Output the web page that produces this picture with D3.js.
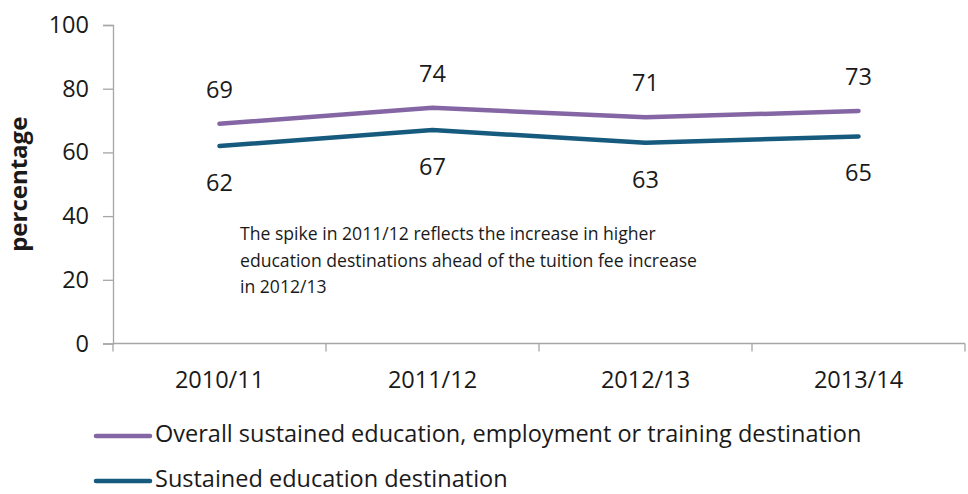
<!DOCTYPE html>
<html>
<head>
<meta charset="utf-8">
<script src="https://cdn.jsdelivr.net/npm/d3@7"></script>
<style>
  html, body { margin: 0; padding: 0; background: #ffffff; }
  svg { display: block; }
  text { font-family: "Open Sans", Lato, sans-serif; fill: #1a1a1a; }
</style>
</head>
<body>
<svg id="chart" width="968" height="494"></svg>
<script>
// Academic years on the category axis
const years = ["2010/11", "2011/12", "2012/13", "2013/14"];
// Overall sustained education, employment or training destination (%)
const overallValues = [69, 74, 71, 73];
// Sustained education destination (%)
const educationValues = [62, 67, 63, 65];
const yTicks = [0, 20, 40, 60, 80, 100];
const seriesNames = [
  "Overall sustained education, employment or training destination",
  "Sustained education destination"
];
const noteLines = [
  "The spike in 2011/12 reflects the increase in higher",
  "education destinations ahead of the tuition fee increase",
  "in 2012/13"
];

const svg = d3.select("#chart");
const plotLeft = 113, plotRight = 965, plotTop = 25, plotBottom = 343.5;
const labelSize = "23.5px";

const x = d3.scaleBand().domain(years).range([plotLeft, plotRight]).padding(0);
const y = d3.scaleLinear().domain([0, 100]).range([plotBottom, plotTop]);

const axisColor = "#a6a6a6";

// Y axis
const yAxis = svg.append("g")
  .attr("transform", `translate(${plotLeft},0)`)
  .call(d3.axisLeft(y).tickValues(yTicks).tickSize(10).tickPadding(14));
yAxis.select(".domain").attr("stroke", axisColor).attr("stroke-width", 1.3);
yAxis.selectAll(".tick line").attr("stroke", axisColor).attr("stroke-width", 1.3);
yAxis.selectAll(".tick text")
  .style("font-size", labelSize).style("fill", "#1a1a1a")
  .attr("font-family", null);

// X axis: tick marks sit on category boundaries
const xAxisG = svg.append("g").attr("transform", `translate(0,${plotBottom})`);
xAxisG.append("line")
  .attr("x1", plotLeft).attr("x2", plotRight)
  .attr("stroke", axisColor).attr("stroke-width", 1.3);
const boundaries = years.map(d => x(d)).concat([x(years[years.length - 1]) + x.bandwidth()]);
xAxisG.selectAll("line.bt").data(boundaries).join("line")
  .attr("class", "bt")
  .attr("x1", d => d).attr("x2", d => d)
  .attr("y1", 0).attr("y2", 8)
  .attr("stroke", axisColor).attr("stroke-width", 1.3);
xAxisG.selectAll("text.cat").data(years).join("text")
  .attr("class", "cat")
  .attr("x", d => x(d) + x.bandwidth() / 2)
  .attr("y", 44.5)
  .attr("text-anchor", "middle")
  .style("font-size", labelSize)
  .text(d => d);

// Y axis title
svg.append("text")
  .attr("transform", `translate(27,${(plotTop + plotBottom) / 2}) rotate(-90)`)
  .attr("text-anchor", "middle")
  .style("font-size", "24px")
  .style("font-weight", "bold")
  .text("percentage");

const cx = d => x(d) + x.bandwidth() / 2;
const line = d3.line().x(d => cx(d.year)).y(d => y(d.value));

const series = [
  { name: seriesNames[0], color: "#8566a4", values: overallValues, labelDy: -26 },
  { name: seriesNames[1], color: "#165a7e", values: educationValues, labelDy: 45 }
];

series.forEach(s => {
  const pts = years.map((yr, i) => ({ year: yr, value: s.values[i] }));
  svg.append("path")
    .datum(pts)
    .attr("fill", "none")
    .attr("stroke", s.color)
    .attr("stroke-width", 4.5)
    .attr("stroke-linejoin", "round")
    .attr("stroke-linecap", "round")
    .attr("d", line);
  svg.selectAll(null).data(pts).join("text")
    .attr("x", d => cx(d.year))
    .attr("y", d => y(d.value) + s.labelDy)
    .attr("text-anchor", "middle")
    .style("font-size", labelSize)
    .text(d => d.value);
});

// Annotation
svg.append("text")
  .attr("x", 240).attr("y", 240)
  .style("font-size", "17.6px")
  .selectAll("tspan").data(noteLines).join("tspan")
  .attr("x", 240)
  .attr("dy", (d, i) => i === 0 ? 0 : 26.5)
  .text(d => d);

// Legend
const legend = svg.append("g");
series.forEach((s, i) => {
  const ly = 436 + i * 45;
  legend.append("line")
    .attr("x1", 96).attr("x2", 150)
    .attr("y1", ly).attr("y2", ly)
    .attr("stroke", s.color).attr("stroke-width", 4.5)
    .attr("stroke-linecap", "round");
  legend.append("text")
    .attr("x", 155).attr("y", ly + 6)
    .style("font-size", labelSize)
    .text(s.name);
});
</script>
</body>
</html>
